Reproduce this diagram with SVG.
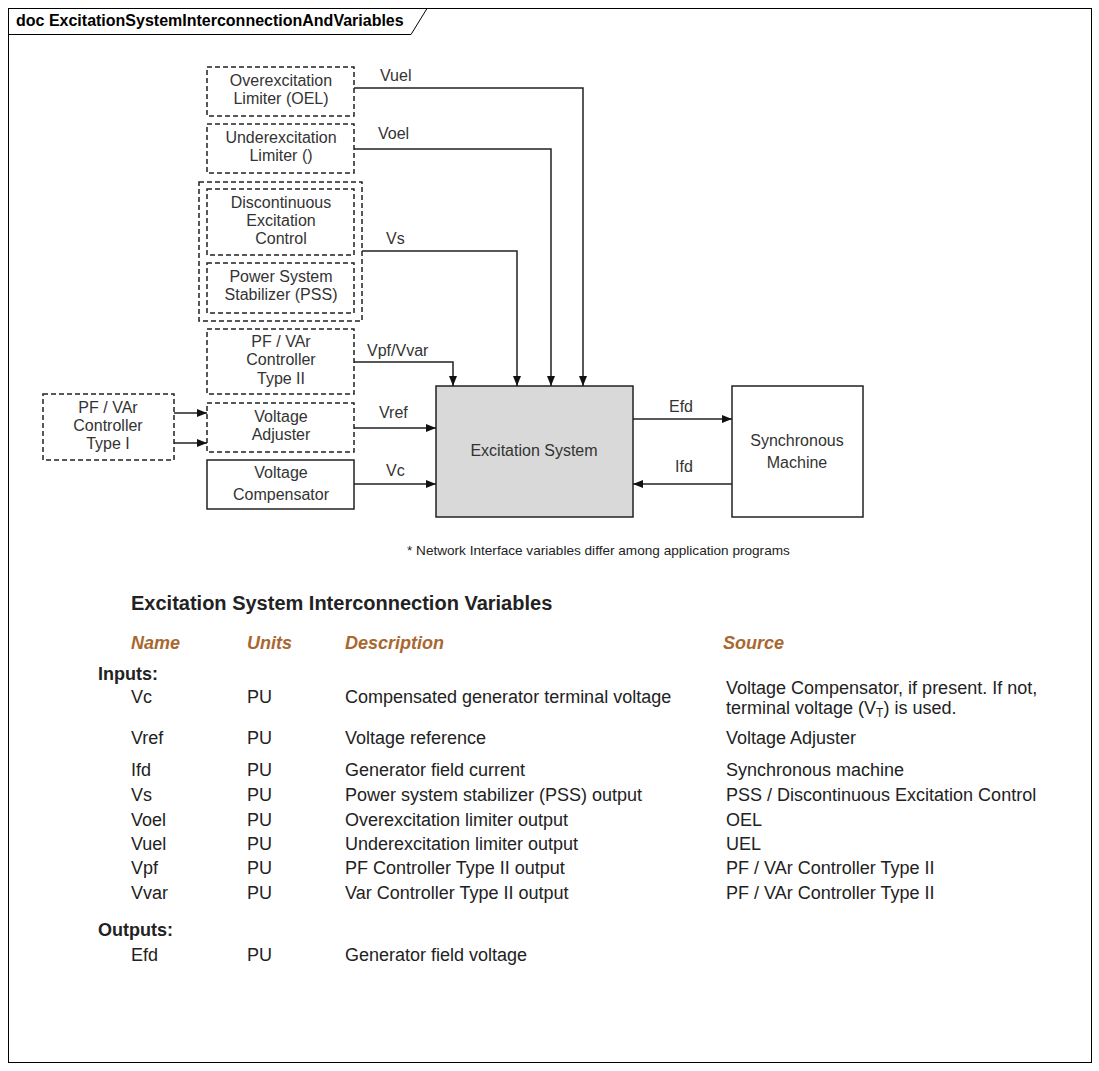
<svg xmlns="http://www.w3.org/2000/svg" width="1099" height="1071" viewBox="0 0 1099 1071">
<defs>
<style>
.frame{fill:#fff;stroke:#000;stroke-width:1}
.dash{fill:#fff;stroke:#222;stroke-width:1.5;stroke-dasharray:5 3}
.solid{fill:#fff;stroke:#222;stroke-width:1.5}
.gray{fill:#d9d9d9;stroke:#222;stroke-width:1.5}
.bt{font-family:"Liberation Sans",Arial,sans-serif;font-size:16px;fill:#333;text-anchor:middle}
.lbl{font-family:"Liberation Sans",Arial,sans-serif;font-size:16px;fill:#333}
.wire{fill:none;stroke:#222;stroke-width:1.5}
.t{font-family:"Liberation Sans",Arial,sans-serif;font-size:18px;fill:#222}
.h{font-family:"Liberation Sans",Arial,sans-serif;font-size:18px;font-weight:bold;font-style:italic;fill:#a8682f}
</style>
<marker id="ah" viewBox="0 0 10 8" refX="10" refY="4" markerWidth="10" markerHeight="8" markerUnits="userSpaceOnUse" orient="auto">
<path d="M0,0 L10,4 L0,8 Z" fill="#111"/>
</marker>
</defs>
<rect x="0" y="0" width="1099" height="1071" fill="#fff"/>
<g id="frame">
<rect class="frame" x="8.5" y="8.5" width="1083" height="1054"/>
<path d="M8.5,34.5 H411 L427,8.5" fill="none" stroke="#000" stroke-width="1"/>
<text x="16" y="26" font-family="'Liberation Sans',Arial,sans-serif" font-size="16" font-weight="bold" fill="#000">doc ExcitationSystemInterconnectionAndVariables</text>
</g>
<g id="oel">
<rect class="dash" x="207" y="67" width="147" height="49"/>
<text class="bt" x="281" y="86">Overexcitation</text>
<text class="bt" x="281" y="104">Limiter (OEL)</text>
</g>
<g id="uel">
<rect class="dash" x="207" y="124" width="147" height="49"/>
<text class="bt" x="281" y="143">Underexcitation</text>
<text class="bt" x="281" y="161">Limiter ()</text>
</g>
<g id="pss-group">
<rect class="dash" x="199" y="182" width="163" height="139"/>
</g>
<g id="dec">
<rect class="dash" x="207" y="189" width="147" height="66"/>
<text class="bt" x="281" y="208">Discontinuous</text>
<text class="bt" x="281" y="226">Excitation</text>
<text class="bt" x="281" y="244">Control</text>
</g>
<g id="pss">
<rect class="dash" x="207" y="263" width="147" height="50"/>
<text class="bt" x="281" y="282">Power System</text>
<text class="bt" x="281" y="300">Stabilizer (PSS)</text>
</g>
<g id="pf2">
<rect class="dash" x="207" y="329" width="147" height="65"/>
<text class="bt" x="281" y="347">PF / VAr</text>
<text class="bt" x="281" y="365">Controller</text>
<text class="bt" x="281" y="384">Type II</text>
</g>
<g id="vadj">
<rect class="dash" x="207" y="403" width="147" height="49"/>
<text class="bt" x="281" y="422">Voltage</text>
<text class="bt" x="281" y="440">Adjuster</text>
</g>
<g id="vcomp">
<rect class="solid" x="207" y="460" width="147" height="49"/>
<text class="bt" x="281" y="478">Voltage</text>
<text class="bt" x="281" y="500">Compensator</text>
</g>
<g id="pf1">
<rect class="dash" x="43" y="394" width="131" height="66"/>
<text class="bt" x="108" y="413">PF / VAr</text>
<text class="bt" x="108" y="431">Controller</text>
<text class="bt" x="108" y="449">Type I</text>
</g>
<g id="exc">
<rect class="gray" x="436" y="386" width="197" height="131"/>
<text class="bt" x="534" y="456">Excitation System</text>
</g>
<g id="sm">
<rect class="solid" x="732" y="386" width="131" height="131"/>
<text class="bt" x="797" y="446">Synchronous</text>
<text class="bt" x="797" y="468">Machine</text>
</g>
<g id="connectors">
<path class="wire" d="M354,88 H583 V386" marker-end="url(#ah)"/>
<path class="wire" d="M354,149 H551 V386" marker-end="url(#ah)"/>
<path class="wire" d="M362,251 H517 V386" marker-end="url(#ah)"/>
<path class="wire" d="M354,362 H453 V386" marker-end="url(#ah)"/>
<path class="wire" d="M354,428 H436" marker-end="url(#ah)"/>
<path class="wire" d="M354,484 H436" marker-end="url(#ah)"/>
<path class="wire" d="M174,413 H207" marker-end="url(#ah)"/>
<path class="wire" d="M174,443 H207" marker-end="url(#ah)"/>
<path class="wire" d="M633,419 H732" marker-end="url(#ah)"/>
<path class="wire" d="M732,484 H633" marker-end="url(#ah)"/>
<text class="lbl" x="380" y="81">Vuel</text>
<text class="lbl" x="378" y="139">Voel</text>
<text class="lbl" x="386" y="244">Vs</text>
<text class="lbl" x="367" y="356">Vpf/Vvar</text>
<text class="lbl" x="379" y="418">Vref</text>
<text class="lbl" x="386" y="476">Vc</text>
<text class="lbl" x="669" y="412">Efd</text>
<text class="lbl" x="675" y="472">Ifd</text>
</g>
<g id="note">
<text x="407" y="555" font-family="'Liberation Sans',Arial,sans-serif" font-size="13.6" fill="#222">* Network Interface variables differ among application programs</text>
</g>
<g id="table">
<text x="131" y="610" font-family="'Liberation Sans',Arial,sans-serif" font-size="20" font-weight="bold" fill="#222">Excitation System Interconnection Variables</text>
<text class="h" x="131" y="649">Name</text>
<text class="h" x="247" y="649">Units</text>
<text class="h" x="345" y="649">Description</text>
<text class="h" x="723" y="649">Source</text>
<text class="t" x="98" y="680" font-weight="bold">Inputs:</text>
<text class="t" x="131" y="703">Vc</text><text class="t" x="247" y="703">PU</text><text class="t" x="345" y="703">Compensated generator terminal voltage</text>
<text class="t" x="726" y="694">Voltage Compensator, if present. If not,</text>
<text class="t" x="726" y="714">terminal voltage (V<tspan font-size="12" dy="3">T</tspan><tspan dy="-3">) is used.</tspan></text>
<text class="t" x="131" y="744">Vref</text><text class="t" x="247" y="744">PU</text><text class="t" x="345" y="744">Voltage reference</text><text class="t" x="726" y="744">Voltage Adjuster</text>
<text class="t" x="131" y="776">Ifd</text><text class="t" x="247" y="776">PU</text><text class="t" x="345" y="776">Generator field current</text><text class="t" x="726" y="776">Synchronous machine</text>
<text class="t" x="131" y="801">Vs</text><text class="t" x="247" y="801">PU</text><text class="t" x="345" y="801">Power system stabilizer (PSS) output</text><text class="t" x="726" y="801">PSS / Discontinuous Excitation Control</text>
<text class="t" x="131" y="826">Voel</text><text class="t" x="247" y="826">PU</text><text class="t" x="345" y="826">Overexcitation limiter output</text><text class="t" x="726" y="826">OEL</text>
<text class="t" x="131" y="850">Vuel</text><text class="t" x="247" y="850">PU</text><text class="t" x="345" y="850">Underexcitation limiter output</text><text class="t" x="726" y="850">UEL</text>
<text class="t" x="131" y="874">Vpf</text><text class="t" x="247" y="874">PU</text><text class="t" x="345" y="874">PF Controller Type II output</text><text class="t" x="726" y="874">PF / VAr Controller Type II</text>
<text class="t" x="131" y="899">Vvar</text><text class="t" x="247" y="899">PU</text><text class="t" x="345" y="899">Var Controller Type II output</text><text class="t" x="726" y="899">PF / VAr Controller Type II</text>
<text class="t" x="98" y="936" font-weight="bold">Outputs:</text>
<text class="t" x="131" y="961">Efd</text><text class="t" x="247" y="961">PU</text><text class="t" x="345" y="961">Generator field voltage</text>
</g>
</svg>
